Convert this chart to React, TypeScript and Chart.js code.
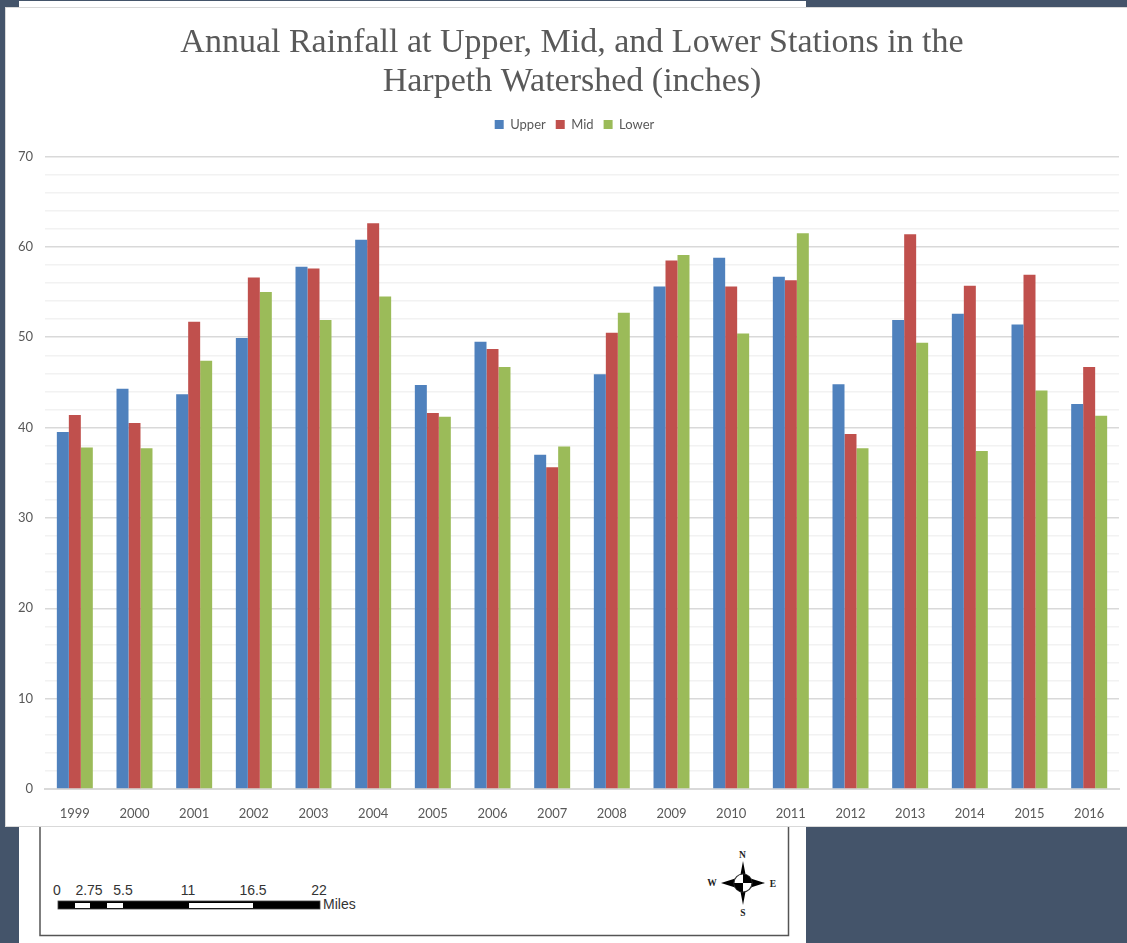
import React, { useEffect, useRef } from "react";
import { Chart, registerables } from "chart.js";

Chart.register(...registerables);

const years = ["1999","2000","2001","2002","2003","2004","2005","2006","2007","2008","2009","2010","2011","2012","2013","2014","2015","2016"];
const upper = [39.5,44.3,43.7,49.9,57.8,60.8,44.7,49.5,37,45.9,55.6,58.8,56.7,44.8,51.9,52.6,51.4,42.6];
const mid = [41.4,40.5,51.7,56.6,57.6,62.6,41.6,48.7,35.6,50.5,58.5,55.6,56.3,39.3,61.4,55.7,56.9,46.7];
const lower = [37.8,37.7,47.4,55,51.9,54.5,41.2,46.7,37.9,52.7,59.1,50.4,61.5,37.7,49.4,37.4,44.1,41.3];
const titleLines = ["Annual Rainfall at Upper, Mid, and Lower Stations in the", "Harpeth Watershed (inches)"];
const scaleLabels: [string, number][] = [["0",57],["2.75",89],["5.5",123],["11",188],["16.5",253],["22",319]];

const placement = {
  id: "placement",
  beforeInit(chart: any) {
    const fit = chart.legend.fit;
    chart.legend.fit = function () {
      fit.call(this);
      this.height += 15.5;
    };
  },
  afterLayout(chart: any) {
    chart.legend.left += 12.5;
    chart.legend.right += 12.5;
    chart.titleBlock.left += 10;
    chart.titleBlock.right += 10;
  },
};

export default function App() {
  const ref = useRef<HTMLCanvasElement>(null);
  useEffect(() => {
    const chart = new Chart(ref.current!, {
      type: "bar",
      plugins: [placement],
      data: {
        labels: years,
        datasets: [
          { label: "Upper", data: upper, backgroundColor: "#4F81BD" },
          { label: "Mid", data: mid, backgroundColor: "#C0504D" },
          { label: "Lower", data: lower, backgroundColor: "#9BBB59" },
        ],
      },
      options: {
        animation: false,
        responsive: false,
        layout: { padding: { top: 16, right: 8, left: 0, bottom: 0 } },
        datasets: { bar: { categoryPercentage: 0.603, barPercentage: 1 } },
        plugins: {
          tooltip: { enabled: false },
          title: {
            display: true,
            text: titleLines,
            color: "#595959",
            font: { family: "Liberation Serif", size: 34, weight: "normal", lineHeight: 1.147 },
            padding: { top: 0, bottom: 6 },
          },
          legend: {
            display: true,
            position: "top",
            labels: {
              boxWidth: 9,
              boxHeight: 9,
              color: "#595959",
              font: { family: "Lato", size: 13 },
              padding: 10,
            },
          },
        },
        scales: {
          x: {
            grid: { display: false },
            border: { display: true, color: "#d9d9d9", width: 2 },
            ticks: { color: "#595959", font: { family: "Lato", size: 13 }, padding: 9, maxRotation: 0 },
            afterFit: (s: any) => { s.height = 39; },
          },
          y: {
            min: 0,
            max: 70,
            border: { display: false },
            grid: {
              drawTicks: false,
              color: (c: any) => (c.tick.value % 10 === 0 ? "#d9d9d9" : "#f2f2f2"),
              lineWidth: 1.5,
            },
            ticks: {
              stepSize: 2,
              autoSkip: false,
              color: "#595959",
              font: { family: "Lato", size: 13 },
              padding: 12,
              callback: (v: any) => (Number(v) % 10 === 0 ? String(v) : ""),
            },
            afterFit: (s: any) => { s.width = 40; },
          },
        },
      },
    } as any);
    return () => chart.destroy();
  }, []);

  return (
    <div style={{ position: "absolute", left: 0, top: 0, width: 1127, height: 943, overflow: "hidden", background: "#44546A" }}>
      <div style={{ position: "absolute", left: 19, top: 1, width: 787, height: 942, background: "#fff" }} />
      <svg width={1127} height={943} style={{ position: "absolute", left: 0, top: 0 }}>
        <rect x={40} y={820} width={748.5} height={115.5} fill="#fff" stroke="#555" strokeWidth={1.5} />
        <rect x={58} y={901} width={262} height={8} fill="#000" stroke="#444" strokeWidth={0.8} />
        <rect x={75} y={903} width={15} height={5} fill="#fff" />
        <rect x={107} y={903} width={16} height={5} fill="#fff" />
        <rect x={189} y={903} width={64} height={5} fill="#fff" />
        {scaleLabels.map(([t, x]) => (
          <text key={t} x={x} y={895} textAnchor="middle" fontFamily="Liberation Sans" fontSize={14} fill="#333">{t}</text>
        ))}
        <text x={323} y={909} fontFamily="Liberation Sans" fontSize={14} fill="#333">Miles</text>
        <g transform="translate(743,883)">
          <path d="M0,-22 L3,-6 L22,0 L3,6 L0,22 L-3,6 L-22,0 L-3,-6 Z" fill="#000" />
          <circle r={9} fill="#fff" stroke="#333" strokeWidth={1.2} />
          <path d="M0,0 L0,-9 A9,9 0 0 1 9,0 Z" fill="#000" />
          <path d="M0,0 L0,9 A9,9 0 0 1 -9,0 Z" fill="#000" />
          <g fontFamily="Liberation Serif" fontWeight="bold" fontSize={9.5} fill="#222" textAnchor="middle">
            <text x={-0.5} y={-25}>N</text>
            <text x={0} y={33}>S</text>
            <text x={-31} y={3}>W</text>
            <text x={30} y={4}>E</text>
          </g>
        </g>
      </svg>
      <div style={{ position: "absolute", left: 5, top: 7, width: 1122, height: 820, background: "#fff", border: "1.5px solid #d9d9d9", borderRight: "none", boxSizing: "border-box" }} />
      <canvas ref={ref} width={1122} height={820} style={{ position: "absolute", left: 5, top: 8, width: 1122, height: 820 }} />
    </div>
  );
}
